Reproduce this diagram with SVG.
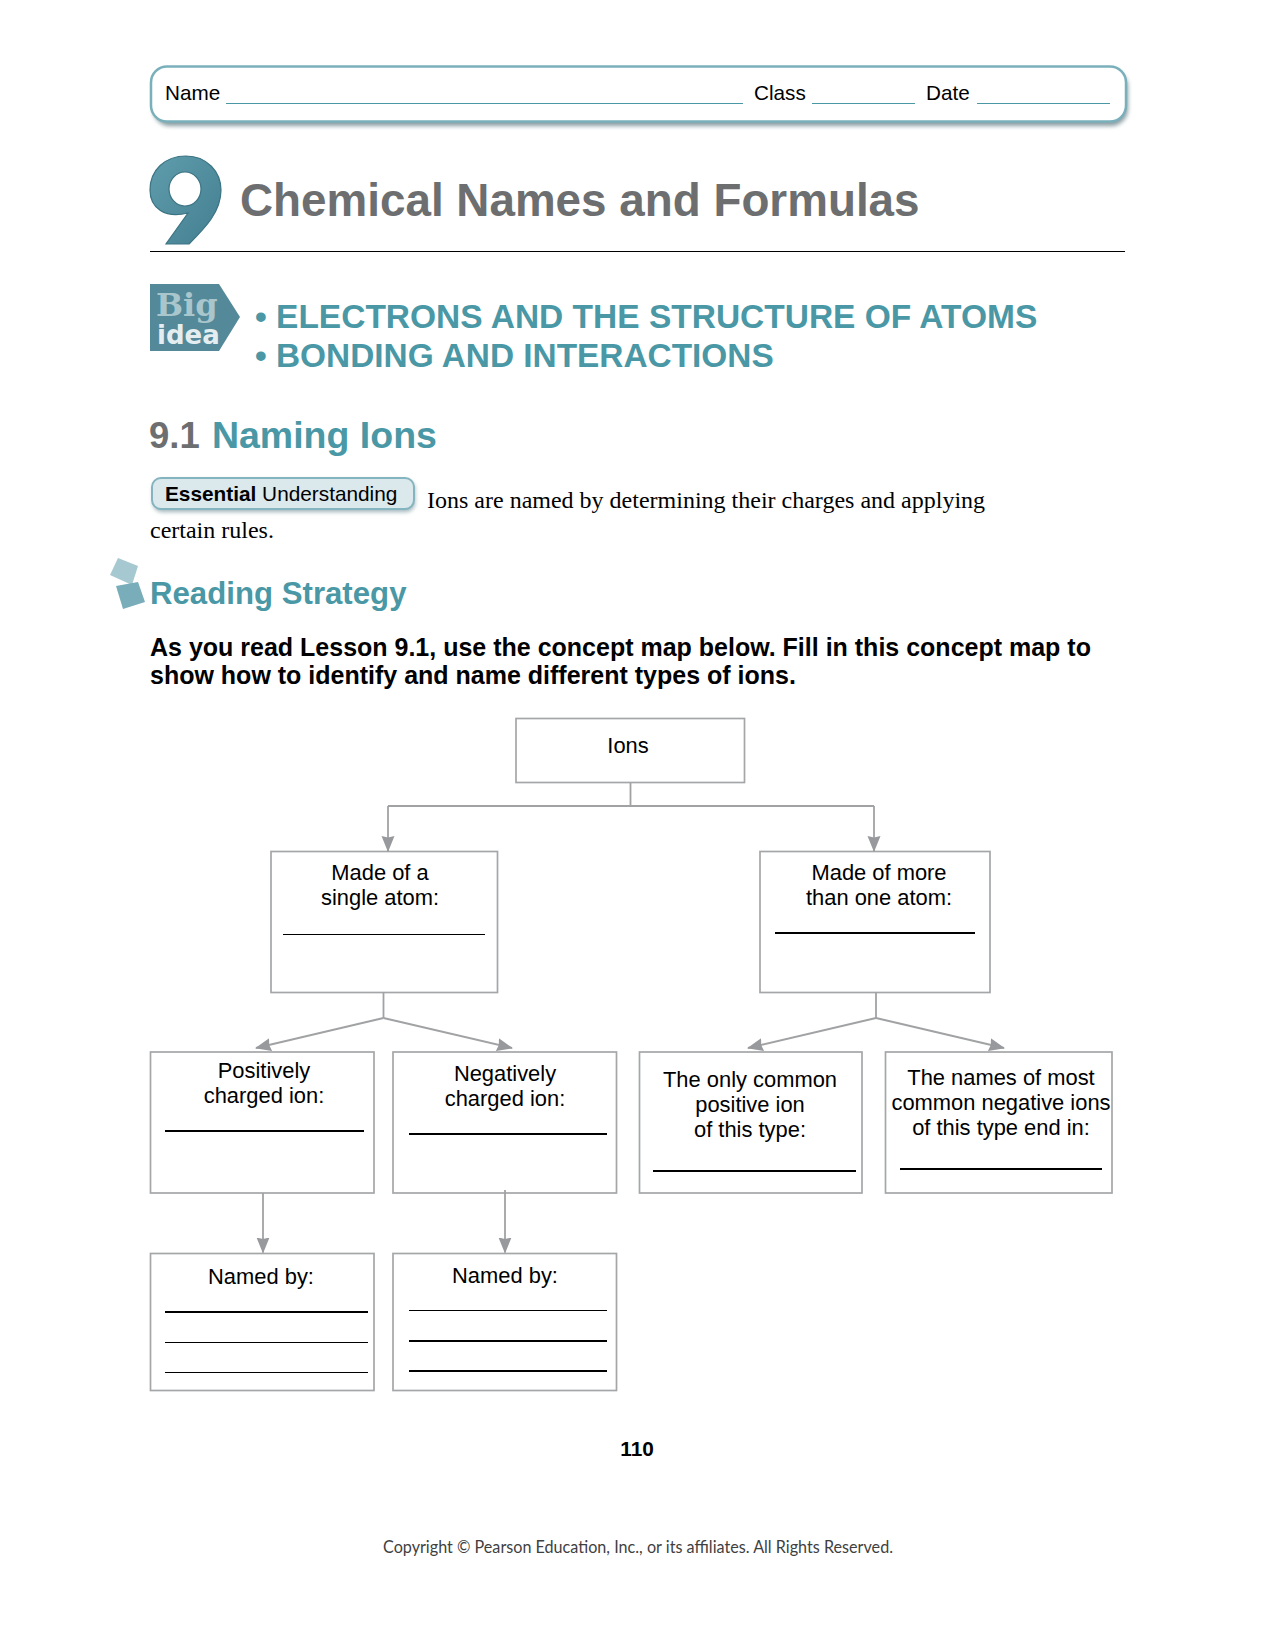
<svg xmlns="http://www.w3.org/2000/svg" width="1275" height="1651" viewBox="0 0 1275 1651">
<style>
text{font-family:"Liberation Sans",Arial,sans-serif;fill:#000}
.f{font-size:20.7px}
.c{font-size:21.9px;text-anchor:middle}
.teal{fill:#4a98a5;font-weight:bold}
.box{fill:#fff;stroke:#a4a6a8;stroke-width:1.7}
.ul{stroke:#000;stroke-width:1;fill:none}
.ut{stroke:#000;stroke-width:2;fill:none}
.hl{stroke:#4a98a5;stroke-width:1.200;fill:none}
.con{stroke:#a0a2a4;stroke-width:1.800;fill:none}
.ser{font-family:"Liberation Serif","Times New Roman",serif;font-size:24px}
</style>
<defs>
<marker id="a" markerUnits="userSpaceOnUse" markerWidth="17" markerHeight="14" refX="15" refY="6.500" orient="auto"><path d="M0 0L16 6.500L0 13L1.500 6.500Z" fill="#97999c"/></marker>
<filter id="sh" x="-5%" y="-20%" width="110%" height="150%"><feGaussianBlur stdDeviation="2"/></filter>
<linearGradient id="nine" x1="0" y1="0" x2="1" y2="1"><stop offset="0" stop-color="#5f9cac"/><stop offset="1" stop-color="#437f90"/></linearGradient>
</defs>
<rect width="1275" height="1651" fill="#fff"/>
<g id="header">
<rect x="153" y="70" width="975" height="56" rx="17" fill="#8a9ea3" filter="url(#sh)"/>
<rect x="151" y="66.500" width="975" height="55" rx="16" fill="#fff" stroke="#7ab0bb" stroke-width="2.500"/>
<text class="f" x="165" y="100">Name</text><path class="hl" d="M226 103.500H743"/>
<text class="f" x="754" y="100">Class</text><path class="hl" d="M812 103.500H915"/>
<text class="f" x="926" y="100">Date</text><path class="hl" d="M977 103.500H1110"/>
</g>
<g id="title">
<path fill="url(#nine)" stroke="#3c7484" stroke-width="1.200" fill-rule="evenodd" d="M150 190C150 170 165 156 186 156C207 156 221 172 221 190C221 212 205 228 189 244H166L188 213C165 219 150 208 150 190ZM185 172C176 172 169 180 169 189C169 198 176 206 185 206C194 206 201 198 201 189C201 180 194 172 185 172Z"/>
<text x="240" y="215.500" style="font-size:45.800px;font-weight:bold;fill:#6d6e70">Chemical Names and Formulas</text>
<path d="M150 251.500H1125" stroke="#000" stroke-width="1.200"/>
</g>
<g id="bigidea">
<path d="M150 284H219L240 317L219 351H150Z" fill="#54899a"/>
<text x="156" y="316" style="font-family:'DejaVu Serif',serif;font-size:32px;font-weight:bold;fill:#a9c6cd">Big</text>
<text x="157" y="344" style="font-family:'DejaVu Sans',sans-serif;font-size:26px;font-weight:bold;fill:#e4eef0">idea</text>
<text class="teal" x="255" y="328" style="font-size:33.500px">• ELECTRONS AND THE STRUCTURE OF ATOMS</text>
<text class="teal" x="255" y="367" style="font-size:33.400px">• BONDING AND INTERACTIONS</text>
</g>
<g id="section">
<text x="149" y="448" style="font-size:36.500px;font-weight:bold;fill:#6d6e70">9.1 <tspan fill="#4a98a5" font-size="37.500px" dx="2">Naming Ions</tspan></text>
<rect x="153" y="480" width="262" height="32" rx="9" fill="#9fb4b9" filter="url(#sh)"/>
<rect x="152" y="478" width="262" height="31" rx="9" fill="#dbe9ed" stroke="#84b4bf" stroke-width="2"/>
<text x="165" y="500.500" style="font-size:20.800px"><tspan font-weight="bold">Essential</tspan> Understanding</text>
<text class="ser" x="427" y="508">Ions are named by determining their charges and applying</text>
<text class="ser" x="150" y="538">certain rules.</text>
</g>
<g id="strategy">
<path d="M118 558L138 566L132 585L110 575Z" fill="#a6c8d0"/>
<path d="M116 586L138 582L145 602L123 609Z" fill="#78adb9"/>
<text class="teal" x="150" y="603.500" style="font-size:31.200px">Reading Strategy</text>
<text x="150" y="656" style="font-size:25px;font-weight:bold">As you read Lesson 9.1, use the concept map below. Fill in this concept map to</text>
<text x="150" y="683.500" style="font-size:25px;font-weight:bold">show how to identify and name different types of ions.</text>
</g>
<g id="n-ions"><rect class="box" x="516" y="718.500" width="228.500" height="64"/><text class="c" x="628" y="753">Ions</text></g>
<g id="n-single"><rect class="box" x="271" y="851.500" width="226.500" height="141"/><text class="c" x="380" y="880">Made of a</text><text class="c" x="380" y="905">single atom:</text><path class="ul" d="M283 934.500H485"/></g>
<g id="n-multi"><rect class="box" x="760" y="851.500" width="230" height="141"/><text class="c" x="879" y="880">Made of more</text><text class="c" x="879" y="905">than one atom:</text><path class="ut" d="M775 933H975"/></g>
<g id="n-pos"><rect class="box" x="150.500" y="1052" width="223.500" height="141"/><text class="c" x="264" y="1078">Positively</text><text class="c" x="264" y="1103">charged ion:</text><path class="ut" d="M165 1131H364"/></g>
<g id="n-neg"><rect class="box" x="393" y="1052" width="223.500" height="141"/><text class="c" x="505" y="1081">Negatively</text><text class="c" x="505" y="1106">charged ion:</text><path class="ut" d="M409 1134H607"/></g>
<g id="n-only"><rect class="box" x="639.500" y="1052" width="222.500" height="141"/><text class="c" x="750" y="1087">The only common</text><text class="c" x="750" y="1112">positive ion</text><text class="c" x="750" y="1137">of this type:</text><path class="ut" d="M653 1171H856"/></g>
<g id="n-names"><rect class="box" x="885.500" y="1052" width="226.500" height="141"/><text class="c" x="1001" y="1085">The names of most</text><text class="c" x="1001" y="1110">common negative ions</text><text class="c" x="1001" y="1135">of this type end in:</text><path class="ut" d="M900 1169H1102"/></g>
<g id="n-named1"><rect class="box" x="150.500" y="1253.500" width="223.500" height="137"/><text class="c" x="261" y="1284">Named by:</text><path class="ut" d="M165 1312H368"/><path class="ul" d="M165 1342.500H368M165 1372.500H368"/></g>
<g id="n-named2"><rect class="box" x="393" y="1253.500" width="223.500" height="137"/><text class="c" x="505" y="1283">Named by:</text><path class="ul" d="M409 1310.500H607"/><path class="ut" d="M409 1341H607M409 1371H607"/></g>
<g id="connectors">
<path class="con" d="M630.500 783V806M388 806H874"/>
<path class="con" d="M388 806V851" marker-end="url(#a)"/>
<path class="con" d="M874 806V851" marker-end="url(#a)"/>
<path class="con" d="M383.500 992V1018"/>
<path class="con" d="M383.500 1018L256 1048" marker-end="url(#a)"/>
<path class="con" d="M383.500 1018L512 1048" marker-end="url(#a)"/>
<path class="con" d="M876 992V1018"/>
<path class="con" d="M876 1018L748 1048" marker-end="url(#a)"/>
<path class="con" d="M876 1018L1004 1048" marker-end="url(#a)"/>
<path class="con" d="M263 1193V1252.500" marker-end="url(#a)"/>
<path class="con" d="M505 1190V1252.500" marker-end="url(#a)"/>
</g>
<g id="footer">
<text x="637" y="1456" style="font-size:20.800px;font-weight:bold;text-anchor:middle">110</text>
<text x="638" y="1553" style="font-family:'Lato',sans-serif;font-size:18px;text-anchor:middle;fill:#3f3f3f" textLength="510" lengthAdjust="spacingAndGlyphs">Copyright © Pearson Education, Inc., or its affiliates. All Rights Reserved.</text>
</g>
</svg>
